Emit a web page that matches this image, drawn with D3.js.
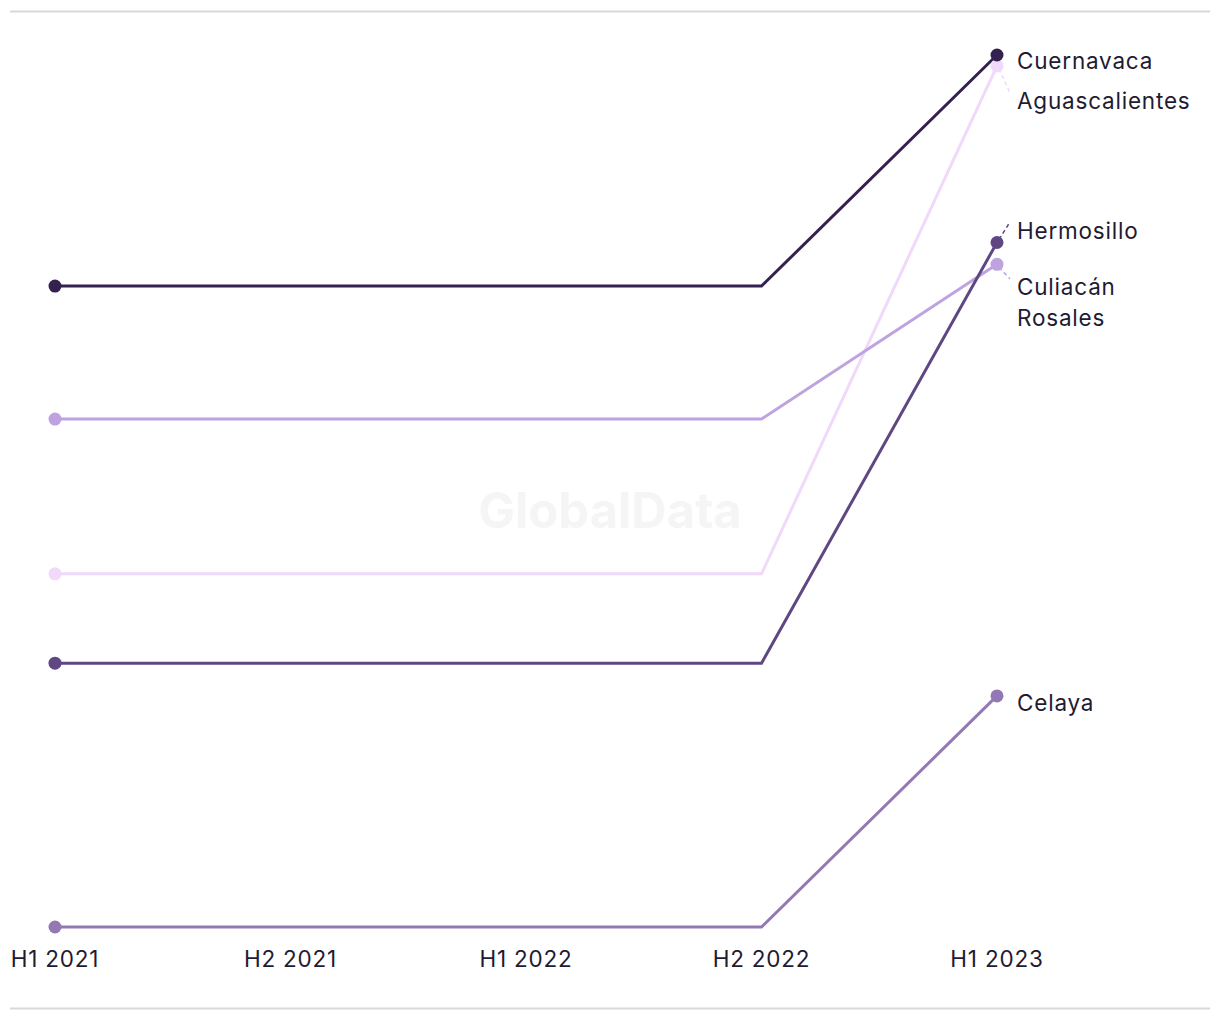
<!DOCTYPE html>
<html><head><meta charset="utf-8">
<script src="https://cdn.jsdelivr.net/npm/d3@7"></script>
<style>body{margin:0;background:#fff}svg{display:block}text{font-family:Inter,"Noto Sans",sans-serif}</style>
</head><body><svg id="c" width="1220" height="1020"></svg>
<script>
const periods = ["H1 2021","H2 2021","H1 2022","H2 2022","H1 2023"];
const cities = ["Cuernavaca","Aguascalientes","Hermosillo","Culiacán Rosales","Celaya"];
const cuernavaca     = [49.4,49.4,49.4,49.4,60.0];
const aguascalientes = [36.2,36.2,36.2,36.2,59.5];
const hermosillo     = [32.1,32.1,32.1,32.1,51.4];
const culiacan       = [43.3,43.3,43.3,43.3,50.4];
const celaya         = [20.0,20.0,20.0,20.0,30.6];
const colors = ["#35214f","#f0d9fb","#5e4783","#bfa3e1","#9379b4"];
const labelLines = [["Cuernavaca"],["Aguascalientes"],["Hermosillo"],["Culiacán","Rosales"],["Celaya"]];
const labelY = [61,101,231,287,703];
const seriesVals = [cuernavaca,aguascalientes,hermosillo,culiacan,celaya];

const svg = d3.select("#c");
const x = d3.scalePoint().domain(periods).range([55,997]);
const y = d3.scaleLinear().domain([20,60]).range([927,55]);

svg.append("line").attr("x1",10).attr("x2",1210).attr("y1",11.5).attr("y2",11.5).attr("stroke","#d9d9d9").attr("stroke-width",2);
svg.append("line").attr("x1",10).attr("x2",1210).attr("y1",1008.5).attr("y2",1008.5).attr("stroke","#d9d9d9").attr("stroke-width",2);

svg.append("text").attr("x",610).attr("y",528).attr("text-anchor","middle").attr("font-size",49).attr("font-weight",700).attr("fill","#f5f5f5").text("GlobalData");

const line = d3.line().x((d,i)=>x(periods[i])).y(d=>y(d));
const order = [1,3,4,2,0];
order.forEach(k=>{
  const v = seriesVals[k];
  svg.append("path").attr("d",line(v)).attr("fill","none").attr("stroke",colors[k]).attr("stroke-width",3);
});
order.forEach(k=>{
  const v = seriesVals[k];
  [0,v.length-1].forEach(i=>{
    svg.append("circle").attr("cx",x(periods[i])).attr("cy",y(v[i])).attr("r",6.5).attr("fill",colors[k]);
  });
});
const xl = 1017;
seriesVals.forEach((v,k)=>{
  const px = x(periods[4]), py = y(v[4]);
  const ly = labelY[k];
  if (Math.abs(ly-py) > 8) {
    const ty = ly < py ? ly-9 : ly-8;
    svg.append("line").attr("x1",px+2).attr("y1",py+(ly<py?-3:3)).attr("x2",1010).attr("y2",ty)
      .attr("stroke",colors[k]).attr("stroke-width",1.5).attr("stroke-dasharray","4,3");
  }
  const t = svg.append("text").attr("x",xl).attr("y",ly+8).attr("font-size",22.5).attr("letter-spacing",0.8).attr("fill","#1e1b33");
  labelLines[k].forEach((s,j)=>t.append("tspan").attr("x",xl).attr("dy",j?31:0).text(s));
});
const ax = svg.append("g").attr("transform","translate(0,967)");
periods.forEach(p=>ax.append("text").attr("x",x(p)).attr("text-anchor","middle").attr("font-size",22.5).attr("letter-spacing",0.8).attr("fill","#1e1b33").text(p));
</script></body></html>
